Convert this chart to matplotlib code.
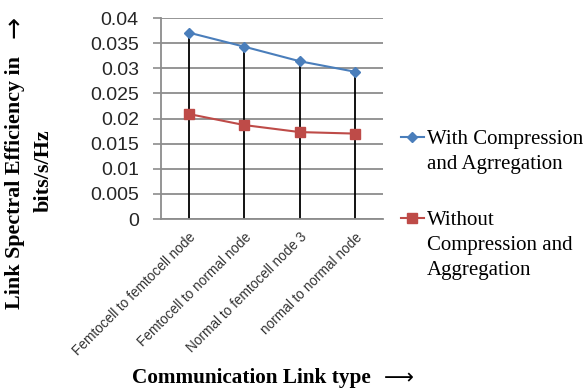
import numpy as np
import matplotlib.pyplot as plt
from matplotlib.lines import Line2D

# ======================
# DATA
# ======================
link_types = [
    "Femtocell to femtocell node",
    "Femtocell to normal node",
    "Normal to femtocell node 3",
    "normal to normal node",
]
with_compression = [0.0371, 0.0343, 0.0314, 0.0293]
without_compression = [0.0209, 0.0187, 0.0173, 0.0170]

yticks = [0, 0.005, 0.01, 0.015, 0.02, 0.025, 0.03, 0.035, 0.04]
ytick_labels = ["0", "0.005", "0.01", "0.015", "0.02", "0.025", "0.03", "0.035", "0.04"]

series_names = ["With Compression\nand Agrregation", "Without\nCompression and\nAggregation"]

blue = "#4a7ebb"
red = "#be4b48"
grid_gray = "#8c8c8c"
serif = ["Liberation Serif", "DejaVu Serif"]

# ======================
# FIGURE
# ======================
fig = plt.figure(figsize=(5.84, 3.92), dpi=100)
ax = fig.add_axes([0.2757, 0.4413, 0.3801, 0.5127])

x = np.arange(len(link_types))

# drop lines from the axis up to the highest series
ax.vlines(x, 0, np.maximum(with_compression, without_compression),
          color="black", lw=1.3, zorder=2)

ax.plot(x, with_compression, color=blue, lw=1.5, marker="D", ms=5.5, zorder=3)
ax.plot(x, without_compression, color=red, lw=1.5, marker="s", ms=6.5, zorder=3)

ax.set_xlim(-0.5, len(link_types) - 0.5)
ax.set_ylim(0, 0.04)

ax.set_yticks(yticks)
ax.set_yticklabels(ytick_labels, fontsize=14, family="Liberation Sans", color="#262626")
ax.set_xticks(x)
ax.set_xticklabels(link_types, rotation=45, ha="right", rotation_mode="anchor",
                   fontsize=9.8, family="Liberation Sans", color="#333333")

ax.tick_params(axis="y", length=6, width=1.2, color=grid_gray, pad=10)
ax.tick_params(axis="x", length=0, pad=8)

ax.grid(axis="y", color=grid_gray, lw=1.3, zorder=0)
ax.set_axisbelow(True)
for side in ["top", "right"]:
    ax.spines[side].set_visible(False)
for side in ["left", "bottom"]:
    ax.spines[side].set_color(grid_gray)
    ax.spines[side].set_linewidth(1.3)

# axis titles
fig.text(0.026, 0.535, "Link Spectral Efficiency in", rotation=90,
         ha="center", va="center", fontsize=15.8, fontweight="bold", family=serif)
fig.text(0.026, 0.931, "\u2192", rotation=90, ha="center", va="center",
         fontsize=19, family="DejaVu Sans")
fig.text(0.074, 0.564, "bits/s/Hz", rotation=90,
         ha="center", va="center", fontsize=16, fontweight="bold", family=serif)

fig.text(0.430, 0.036, "Communication Link type", ha="center", va="center",
         fontsize=15.3, fontweight="bold", family=serif)
fig.text(0.683, 0.036, "\u27f6", ha="center", va="center",
         fontsize=15, family="DejaVu Sans")

# legend entries
legend_rows = [(0.6505, 0.669, blue, "D", 5.5), (0.444, 0.461, red, "s", 6.5)]
for name, (y_mark, y_text, col, mk, size) in zip(series_names, legend_rows):
    fig.add_artist(Line2D([0.6866, 0.726], [y_mark, y_mark], transform=fig.transFigure,
                          color=col, lw=1.5))
    fig.add_artist(Line2D([0.7063], [y_mark], transform=fig.transFigure,
                          color=col, marker=mk, ms=size, lw=0))
    fig.text(0.731, y_text, name, ha="left", va="top", fontsize=15,
             family=serif, linespacing=1.42)

plt.savefig("out.png", dpi=100)
